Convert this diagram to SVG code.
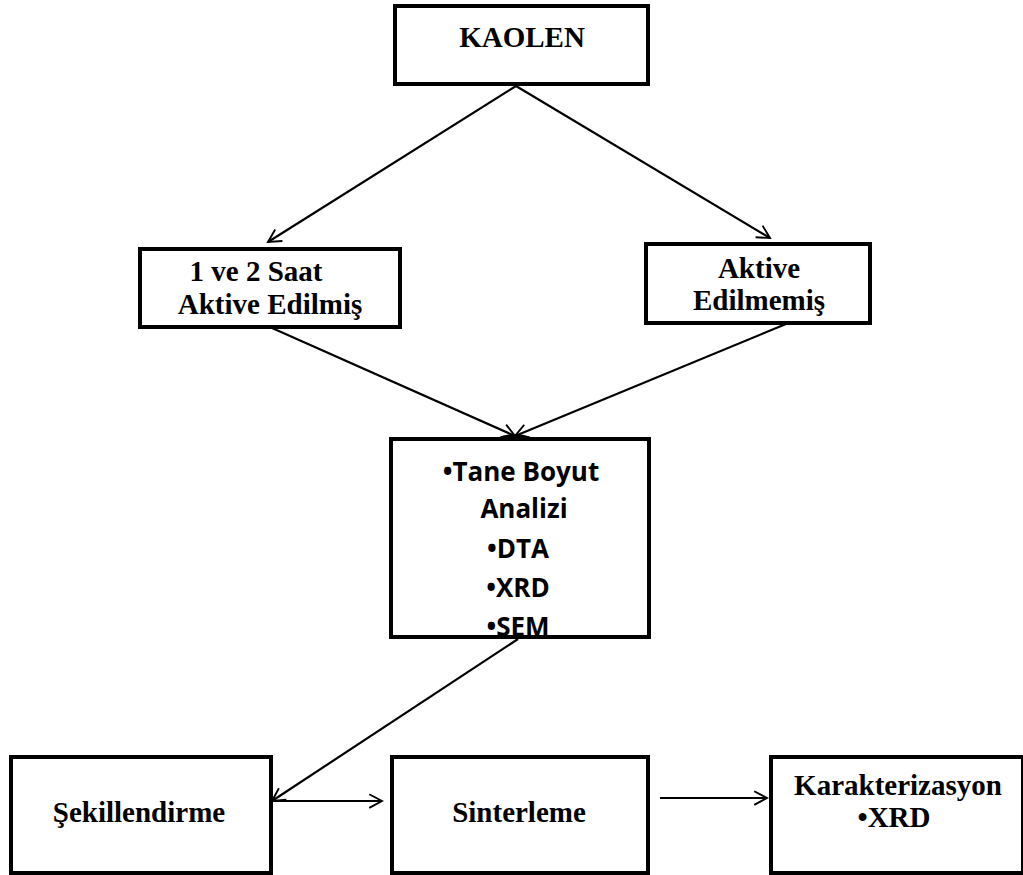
<svg xmlns="http://www.w3.org/2000/svg" width="1023" height="875" viewBox="0 0 1023 875">
<defs>
<marker id="arr" viewBox="0 0 20 20" refX="18" refY="10" markerWidth="17" markerHeight="17" markerUnits="userSpaceOnUse" orient="auto">
<path d="M3,2 L18,10 L3,18" fill="none" stroke="#000" stroke-width="2.2"/>
</marker>
<style>
.box{fill:#fff;stroke:#000;stroke-width:4}
.t{font-family:"Liberation Serif","Times New Roman",serif;font-weight:bold;fill:#000;text-anchor:middle;font-size:29px}
.c{font-family:"Open Sans","Liberation Sans",sans-serif;font-weight:bold;fill:#000;text-anchor:middle;font-size:26px}
.ln{stroke:#000;stroke-width:2.2;fill:none;marker-end:url(#arr)}
</style>
</defs>
<rect width="1023" height="875" fill="#fff"/>
<g id="kaolen">
<rect class="box" x="395" y="6" width="253" height="78"/>
<text class="t" x="522" y="47">KAOLEN</text>
</g>
<g id="aktive12">
<rect class="box" x="140" y="249" width="260" height="78"/>
<text class="t" x="256" y="281">1 ve 2 Saat</text>
<text class="t" x="270" y="314">Aktive Edilmiş</text>
</g>
<g id="aktivedegil">
<rect class="box" x="646" y="244" width="224" height="79"/>
<text class="t" x="759" y="278">Aktive</text>
<text class="t" x="759" y="310">Edilmemiş</text>
</g>
<g id="analiz">
<rect class="box" x="391" y="439" width="258" height="198"/>
<text class="c" x="521" y="481">•Tane Boyut</text>
<text class="c" x="524" y="518">Analizi</text>
<text class="c" x="518" y="558">•DTA</text>
<text class="c" x="518" y="597">•XRD</text>
<text class="c" x="518" y="636">•SEM</text>
</g>
<g id="sekil">
<rect class="box" x="11" y="757" width="260" height="116"/>
<text class="t" x="139" y="822">Şekillendirme</text>
</g>
<g id="sinter">
<rect class="box" x="392" y="757" width="256" height="116"/>
<text class="t" x="519" y="822">Sinterleme</text>
</g>
<g id="karakter">
<rect class="box" x="771" y="757" width="252" height="116"/>
<text class="t" x="898" y="795">Karakterizasyon</text>
<text class="t" x="894" y="827">•XRD</text>
</g>
<g id="connectors">
<line class="ln" x1="516" y1="86" x2="268" y2="242"/>
<line class="ln" x1="516" y1="86" x2="770" y2="238"/>
<line class="ln" x1="272" y1="328" x2="515" y2="436"/>
<line class="ln" x1="786" y1="324" x2="515" y2="436"/>
<path d="M497,438 Q515,430 533,438 Z" fill="#000"/>
<line class="ln" x1="518" y1="639" x2="272" y2="801"/>
<line class="ln" x1="272" y1="801" x2="382" y2="801"/>
<line class="ln" x1="660" y1="798" x2="767" y2="798"/>
</g>
</svg>
